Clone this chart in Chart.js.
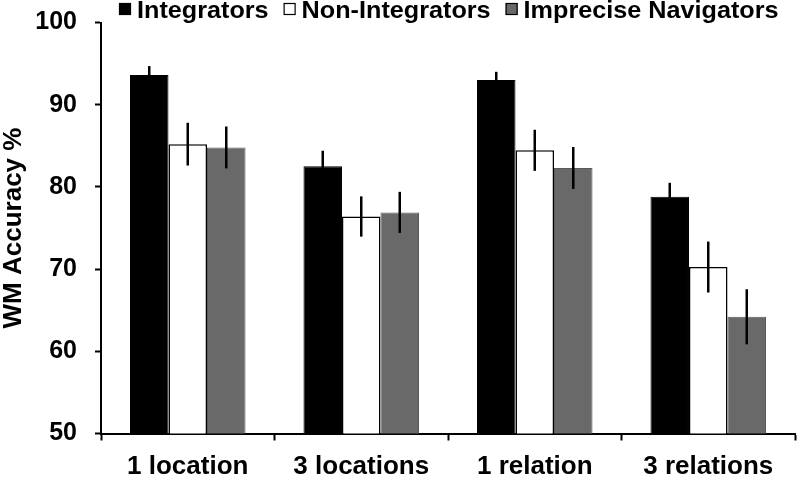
<!DOCTYPE html>
<html>
<head>
<meta charset="utf-8">
<script src="https://cdn.jsdelivr.net/npm/chart.js@4/dist/chart.umd.min.js"></script>
<style>
  html, body { margin: 0; padding: 0; background: #fff; }
  #wrap { width: 800px; height: 480px; }
</style>
</head>
<body>
<div id="wrap"><canvas id="c" width="800" height="480"></canvas></div>
<script>
const categories = ['1 location', '3 locations', '1 relation', '3 relations'];
const seriesNames = ['Integrators', 'Non-Integrators', 'Imprecise Navigators'];
const integrators = [93.6, 82.5, 93.0, 78.8];
const nonIntegrators = [85.2, 76.4, 84.45, 70.25];
const impreciseNavigators = [84.8, 76.9, 82.3, 64.2];
const errIntegrators = [1.1, 1.9, 1.0, 1.7];
const errNonIntegrators = [2.6, 2.45, 2.5, 3.1];
const errImprecise = [2.55, 2.5, 2.55, 3.35];
const yTicks = [50, 60, 70, 80, 90, 100];

const FONT = "'Liberation Sans', Arial, sans-serif";

const errorBarPlugin = {
  id: 'errorBars',
  afterDatasetsDraw(chart) {
    const ctx = chart.ctx;
    const yScale = chart.scales.y;
    chart.data.datasets.forEach((ds, di) => {
      const meta = chart.getDatasetMeta(di);
      meta.data.forEach((bar, i) => {
        const v = ds.data[i], e = ds.errors[i];
        const yTop = yScale.getPixelForValue(v + e);
        const yBot = yScale.getPixelForValue(v - e);
        ctx.save();
        ctx.strokeStyle = '#000';
        ctx.lineWidth = 2.5;
        ctx.beginPath();
        ctx.moveTo(bar.x, yTop);
        ctx.lineTo(bar.x, yBot);
        ctx.stroke();
        ctx.restore();
      });
    });
  }
};

// Legend drawn from the datasets (labels + colours), laid out compactly like the reference
const legendPlugin = {
  id: 'compactLegend',
  afterDraw(chart) {
    const ctx = chart.ctx;
    const fontSize = 24, stretch = 1.05, box = 12, boxGap = 6, itemGap = 15;
    let x = 119;
    const boxTop = 3, baseline = 18;
    ctx.save();
    ctx.font = 'bold ' + fontSize + 'px ' + FONT;
    ctx.textBaseline = 'alphabetic';
    ctx.textAlign = 'left';
    chart.data.datasets.forEach(ds => {
      ctx.fillStyle = ds.backgroundColor;
      ctx.fillRect(x, boxTop, box, box);
      ctx.strokeStyle = '#000';
      ctx.lineWidth = 1.2;
      ctx.strokeRect(x + 0.5, boxTop + 0.5, box - 1, box - 1);
      x += box + boxGap;
      const w = ctx.measureText(ds.label).width * stretch;
      ctx.save();
      ctx.translate(x, baseline);
      ctx.scale(stretch, 1);
      ctx.fillStyle = '#000';
      ctx.fillText(ds.label, 0, 0);
      ctx.restore();
      x += w + itemGap;
    });
    ctx.restore();
  }
};

new Chart(document.getElementById('c'), {
  type: 'bar',
  data: {
    labels: categories,
    datasets: [
      { label: seriesNames[0], data: integrators, errors: errIntegrators,
        backgroundColor: '#000000', borderColor: '#000000', borderWidth: 1 },
      { label: seriesNames[1], data: nonIntegrators, errors: errNonIntegrators,
        backgroundColor: '#ffffff', borderColor: '#000000', borderWidth: 1.5 },
      { label: seriesNames[2], data: impreciseNavigators, errors: errImprecise,
        backgroundColor: '#696969', borderColor: '#5a5a5a', borderWidth: 1 }
    ]
  },
  options: {
    responsive: false,
    animation: false,
    devicePixelRatio: 1,
    layout: { padding: { left: 0, right: 5, top: 22.5, bottom: 0 } },
    datasets: { bar: { categoryPercentage: 0.666, barPercentage: 1.0 } },
    plugins: {
      legend: { display: false },
      tooltip: { enabled: false }
    },
    scales: {
      x: {
        afterFit(scale) { scale.height = 46.5; scale.paddingLeft = 0; scale.paddingRight = 0; },
        grid: { offset: true, drawOnChartArea: false, tickLength: 7, color: '#000', tickWidth: 2 },
        border: { color: '#000', width: 2 },
        ticks: { font: { family: FONT, size: 26, weight: 'bold', lineHeight: 1 }, color: '#000', padding: 13.5, maxRotation: 0 }
      },
      y: {
        min: 50, max: 100,
        afterBuildTicks(scale) { scale.ticks = yTicks.map(v => ({ value: v })); },
        afterFit(scale) { scale.width = 101; scale.paddingTop = 0; scale.paddingBottom = 0; },
        grid: { drawOnChartArea: false, tickLength: 6, color: '#000', tickWidth: 2 },
        border: { color: '#000', width: 2 },
        ticks: { font: { family: FONT, size: 25, weight: 'bold', lineHeight: 1 }, color: '#000', padding: 18 },
        title: { display: true, text: 'WM Accuracy %', font: { family: FONT, size: 26, weight: 'bold', lineHeight: 1 }, color: '#000', padding: { top: 1, bottom: 8 } }
      }
    }
  },
  plugins: [errorBarPlugin, legendPlugin]
});
</script>
</body>
</html>
